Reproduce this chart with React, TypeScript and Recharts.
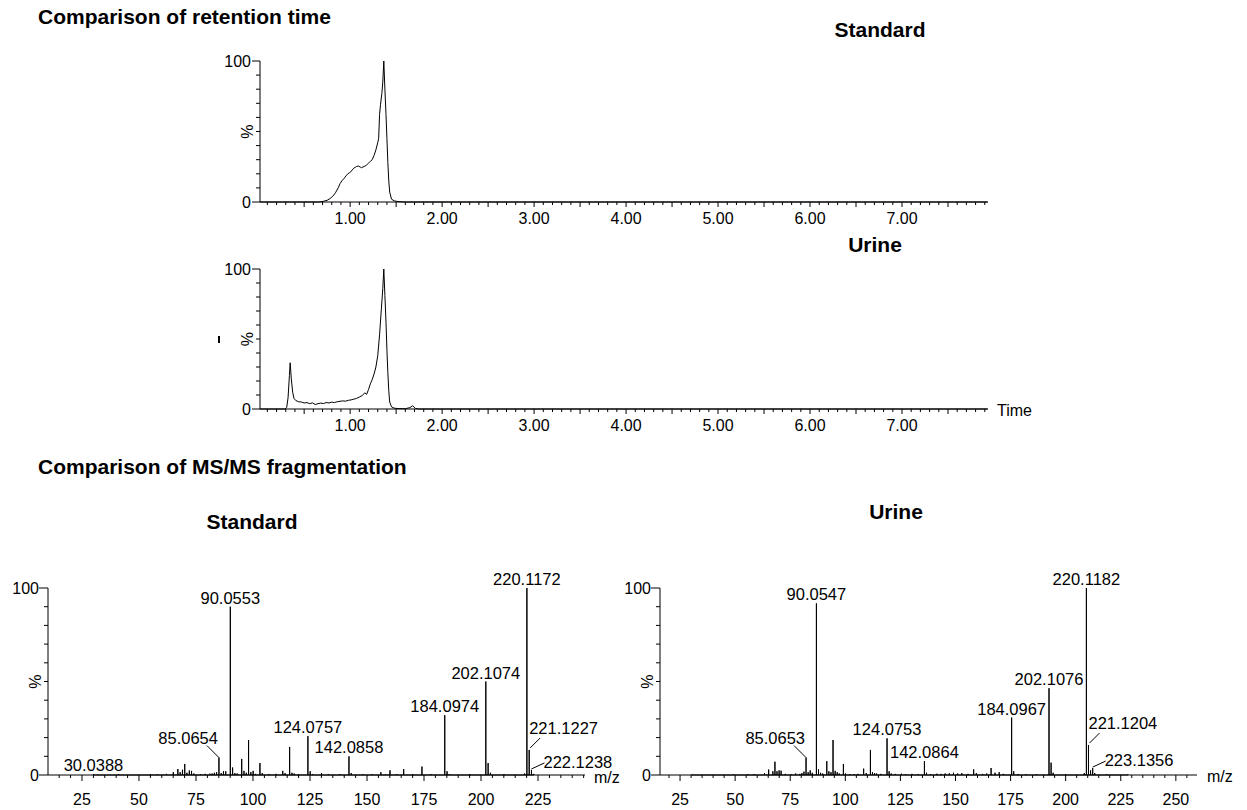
import React from "react";
import { LineChart, Line, XAxis, YAxis, ComposedChart, Scatter } from "recharts";

const FONT = "'Liberation Sans', Arial, sans-serif";

// retention time traces: [time (min), % intensity]
const standardTrace: [number, number][] = [
  [0.02, 0], [0.66, 0], [0.71, 0.5], [0.75, 1.2], [0.78, 2.4], [0.81, 4], [0.84, 6.5], [0.87, 10],
  [0.89, 13], [0.91, 15], [0.935, 16.8], [0.955, 18.5], [0.975, 20], [0.99, 20.6], [1.005, 21.3],
  [1.02, 22.5], [1.04, 24], [1.055, 24.6], [1.07, 25.2], [1.09, 25.5], [1.11, 24.8], [1.125, 24.3],
  [1.14, 24.9], [1.16, 25.4], [1.18, 26.3], [1.2, 27.6], [1.22, 28.8], [1.24, 30], [1.26, 33],
  [1.28, 37], [1.3, 42], [1.31, 45], [1.32, 62], [1.33, 69], [1.345, 77], [1.355, 85], [1.366, 100],
  [1.378, 80], [1.39, 62], [1.4, 45], [1.41, 28], [1.42, 15], [1.43, 7], [1.45, 2], [1.48, 0.8],
  [1.52, 0.3], [1.6, 0], [7.93, 0],
];

const urineTrace: [number, number][] = [
  [0.02, 0], [0.29, 0], [0.31, 1], [0.325, 8], [0.34, 24], [0.348, 33], [0.36, 22], [0.375, 12],
  [0.39, 7.5], [0.41, 6], [0.44, 5.2], [0.47, 5], [0.5, 4.3], [0.53, 4.6], [0.56, 3.8], [0.59, 4.4],
  [0.62, 3.2], [0.65, 3.8], [0.68, 4.2], [0.71, 3.9], [0.74, 4.6], [0.77, 4.3], [0.8, 4.9], [0.83, 4.6],
  [0.86, 5.2], [0.89, 5.5], [0.92, 5.8], [0.95, 5.6], [0.98, 6.2], [1.01, 6.5], [1.04, 7], [1.07, 7.6],
  [1.1, 8.5], [1.13, 9.6], [1.16, 11.5], [1.18, 10.5], [1.2, 14], [1.22, 18], [1.24, 21], [1.26, 25],
  [1.28, 30], [1.3, 38], [1.32, 53], [1.34, 72], [1.355, 86], [1.366, 100], [1.378, 81], [1.39, 62],
  [1.4, 42], [1.41, 26], [1.42, 13], [1.43, 5], [1.45, 1.5], [1.48, 0.6], [1.52, 0.3], [1.6, 0.2],
  [1.65, 1], [1.68, 2.3], [1.71, 0.4], [1.75, 0], [7.93, 0],
];

const timeLabels = ["1.00", "2.00", "3.00", "4.00", "5.00", "6.00", "7.00"];

// MS/MS spectra: [m/z, % intensity]
const standardPeaks: [number, number][] = [
  [30.0388, 0.5], [41.04, 0.4], [55.05, 0.4], [58.07, 0.4], [62.06, 0.6], [65.05, 1.5], [67.05, 3.2],
  [68.05, 1.5], [69.07, 2.8], [70.07, 5.9], [71.05, 1.2], [72.08, 2.4], [73.05, 2.2], [74.06, 0.8],
  [77.04, 0.5], [79.05, 0.6], [81.07, 0.7], [82.07, 0.8], [83.06, 1.2], [84.04, 1.5], [85.0654, 9.3],
  [86.06, 1], [87.05, 2], [88.04, 2], [90.0553, 90], [91.06, 4], [92.05, 1], [93.07, 0.8], [95.05, 8.6],
  [96.05, 2.2], [97.07, 1.2], [98.06, 18.7], [99.07, 1.5], [100.07, 2.2], [101.06, 0.6], [103.05, 6.4],
  [104.05, 1], [107.05, 0.5], [110.07, 0.6], [113.06, 2.2], [114.06, 1], [116.07, 15], [117.07, 1.2],
  [118.06, 0.8], [120.08, 0.4], [124.0757, 20.8], [125.08, 2], [126.09, 0.5], [130.06, 1], [133.08, 0.4],
  [138.07, 0.5], [142.0858, 10], [143.09, 1], [148.08, 0.5], [152.07, 0.5], [156.08, 1.5], [158.09, 0.5],
  [160.08, 2.5], [163.08, 0.5], [166.08, 3.2], [170.09, 0.5], [174.09, 4.5], [178.1, 0.5], [184.0974, 32],
  [185.1, 2], [186.1, 0.5], [195.1, 0.5], [202.1074, 50], [203.11, 6.4], [204.11, 1.2], [210.1, 0.4],
  [219.11, 0.8], [220.1172, 100], [221.1227, 13.4], [222.1238, 2.7], [223.12, 0.6],
];

const urinePeaks: [number, number][] = [
  [30.03, 0.3], [50.04, 0.3], [57.06, 0.4], [60.05, 0.5], [65.05, 1], [67.05, 2.9], [69.07, 2], [70.07, 7.1],
  [71.05, 2], [72.08, 2.5], [73.05, 2.3], [75.05, 0.6], [78.05, 0.5], [80.05, 0.8], [82.07, 0.6], [83.06, 1],
  [84.04, 1.8], [85.0653, 9.3], [86.06, 1.5], [87.05, 2.5], [88.04, 1.2], [90.0547, 91.8], [91.06, 3],
  [92.05, 1.2], [93.07, 0.8], [95.05, 7.4], [96.05, 2], [97.07, 1.5], [98.06, 18.7], [99.07, 2.2],
  [100.07, 1.5], [101.06, 0.8], [103.05, 5.9], [104.05, 0.8], [106.06, 0.5], [108.05, 0.5], [110.07, 0.6],
  [112.8, 3.4], [114.06, 1], [116.07, 13.4], [117.07, 1.5], [118.06, 1], [119.05, 0.8], [121.07, 0.6],
  [124.0753, 19.6], [125.08, 2], [126.09, 0.8], [128.07, 0.6], [131.06, 0.7], [133.08, 0.5], [136.07, 0.6],
  [139.06, 0.5], [142.0864, 7.4], [143.09, 1.2], [145.08, 0.5], [148.08, 0.7], [150.07, 0.6], [152.07, 0.8],
  [154.08, 0.9], [156.08, 1.2], [158.09, 0.8], [160.08, 1], [163.08, 0.6], [165.8, 3], [167.09, 1],
  [170.09, 0.6], [172.08, 0.8], [174.2, 3.7], [176.09, 1.2], [178.1, 1.5], [180.1, 0.6], [184.0967, 30.7],
  [185.1, 2], [187.1, 0.5], [191.1, 0.4], [196.1, 0.5], [202.1076, 46.4], [203.11, 6.6], [204.11, 1.2],
  [210.1, 0.4], [219.11, 1], [220.1182, 100], [221.1204, 16], [222.12, 2.5], [223.1356, 3.7], [224.13, 1],
  [230.1, 0.4], [240.1, 0.3],
];

const standardPeakLabels = ["30.0388", "85.0654", "90.0553", "124.0757", "142.0858", "184.0974", "202.1074", "220.1172", "221.1227", "222.1238"];
const urinePeakLabels = ["85.0653", "90.0547", "124.0753", "142.0864", "184.0967", "202.1076", "220.1182", "221.1204", "223.1356"];

const standardMzLabels = [25, 50, 75, 100, 125, 150, 175, 200, 225];
const urineMzLabels = [25, 50, 75, 100, 125, 150, 175, 200, 225, 250];

// where a peak label sits relative to its peak (default: centred above)
const labelPlacement: Record<string, "left" | "right" | "low"> = {
  "85.0654": "left",
  "85.0653": "left",
  "221.1227": "right",
  "221.1204": "right",
  "222.1238": "low",
  "223.1356": "low",
};

const timeTicks = Array.from({ length: 79 }, (_, k) => (k + 1) / 10);
const pctTicks = [0, 10, 20, 30, 40, 50, 60, 70, 80, 90, 100];
const mzTicks = Array.from({ length: 55 }, (_, k) => 5 * (k + 3));

const txt = { fontFamily: FONT, fill: "#000" };

const PctTick = (props: any) => {
  const { x, y, payload, major } = props;
  const v = payload.value;
  const long = v === 0 || v === 100;
  return (
    <g>
      <line x1={x} x2={x - (long ? major : 4)} y1={y} y2={y} stroke="#000" />
      {long && (
        <text {...txt} x={x - 9} y={y + 5.5} textAnchor="end" fontSize={16}>
          {v}
        </text>
      )}
      {v === 50 && (
        <text {...txt} x={x - 13} y={y} textAnchor="middle" dominantBaseline="central" fontSize={16} transform={`rotate(-90, ${x - 13}, ${y})`}>
          %
        </text>
      )}
    </g>
  );
};

const TimeTick = (props: any) => {
  const { x, y, payload } = props;
  const k = Math.round(payload.value * 10);
  const label = k % 10 === 0 ? timeLabels[k / 10 - 1] : null;
  return (
    <g>
      <line x1={x} x2={x} y1={y} y2={y + (k % 5 === 0 ? 5 : 3)} stroke="#000" />
      {label && (
        <text {...txt} x={x} y={y + 22} textAnchor="middle" fontSize={16}>
          {label}
        </text>
      )}
    </g>
  );
};

const makeMzTick = (labels: number[]) => (props: any) => {
  const { x, y, payload } = props;
  const v = Math.round(payload.value);
  const show = labels.includes(v);
  return (
    <g>
      <line x1={x} x2={x} y1={y} y2={y + (v % 25 === 0 ? 6 : 3)} stroke="#000" />
      {show && (
        <text {...txt} x={x} y={y + 30} textAnchor="middle" fontSize={16}>
          {v}
        </text>
      )}
    </g>
  );
};

const PeakLabel = (props: any) => {
  const { cx, cy, payload } = props;
  const label: string = payload.label;
  const place = labelPlacement[label];
  const fs = 16.5;
  if (place === "left") {
    return (
      <g>
        <line x1={cx} y1={cy} x2={cx - 12} y2={cy - 12} stroke="#000" />
        <text {...txt} x={cx - 1} y={cy - 14} textAnchor="end" fontSize={fs}>{label}</text>
      </g>
    );
  }
  if (place === "right") {
    return (
      <g>
        <line x1={cx + 1} y1={cy - 2} x2={cx + 11} y2={cy - 12} stroke="#000" />
        <text {...txt} x={cx} y={cy - 16} textAnchor="start" fontSize={fs}>{label}</text>
      </g>
    );
  }
  if (place === "low") {
    return (
      <g>
        <line x1={cx} y1={cy - 1} x2={cx + 13} y2={cy - 7} stroke="#000" />
        <text {...txt} x={cx + 12} y={cy - 2} textAnchor="start" fontSize={fs}>{label}</text>
      </g>
    );
  }
  return (
    <text {...txt} x={cx} y={cy - 3} textAnchor="middle" fontSize={fs}>{label}</text>
  );
};

function Chromatogram({ trace, left, top, plotHeight }: { trace: [number, number][]; left: number; top: number; plotHeight: number }) {
  const data = trace.map(([t, v]) => ({ t, v }));
  return (
    <div style={{ position: "absolute", left, top }}>
      <LineChart width={800} height={10 + plotHeight + 32} data={data} margin={{ top: 10, right: 12, bottom: 0, left: 0 }}>
        <XAxis
          type="number"
          dataKey="t"
          domain={[0.02, 7.935]}
          ticks={timeTicks}
          interval={0}
          tickSize={0}
          tickMargin={0}
          tickLine={false}
          axisLine={{ stroke: "#000" }}
          tick={<TimeTick />}
          height={32}
        />
        <YAxis
          type="number"
          domain={[0, 100]}
          ticks={pctTicks}
          interval={0}
          tickSize={0}
          tickMargin={0}
          tickLine={false}
          axisLine={{ stroke: "#000" }}
          tick={<PctTick major={8} />}
          width={60}
        />
        <Line dataKey="v" type="linear" stroke="#000" strokeWidth={1} dot={false} isAnimationActive={false} />
      </LineChart>
    </div>
  );
}

function Spectrum({
  peaks, labels, mzLabels, left, width, stickDomain, labelDomain,
}: {
  peaks: [number, number][]; labels: string[]; mzLabels: number[]; left: number; width: number;
  stickDomain: [number, number]; labelDomain: [number, number];
}) {
  const sticks = peaks.flatMap(([mz, i]) => [{ mz, i: 0 }, { mz, i }, { mz, i: 0 }]);
  const labelData = labels.map((label) => {
    const mz = parseFloat(label);
    const peak = peaks.find((p) => p[0] === mz);
    return { mz, i: peak ? peak[1] : 0, label };
  });
  const MzTick = makeMzTick(mzLabels);
  return (
    <div style={{ position: "absolute", left, top: 563 }}>
      <ComposedChart width={width} height={247} data={sticks} margin={{ top: 25, right: width - 582, bottom: 0, left: 0 }}>
        <XAxis xAxisId="mz" type="number" dataKey="mz" domain={stickDomain} hide height={0} />
        <XAxis
          xAxisId="scale"
          type="number"
          dataKey="mz"
          domain={labelDomain}
          allowDataOverflow
          ticks={mzTicks.filter((t) => t > labelDomain[0] && t < labelDomain[1])}
          interval={0}
          tickSize={0}
          tickMargin={0}
          tickLine={false}
          axisLine={{ stroke: "#000" }}
          tick={<MzTick />}
          height={35}
        />
        <YAxis
          type="number"
          domain={[0, 100]}
          ticks={pctTicks}
          interval={0}
          tickSize={0}
          tickMargin={0}
          tickLine={false}
          axisLine={{ stroke: "#000" }}
          tick={<PctTick major={9} />}
          width={45}
        />
        <Line xAxisId="mz" dataKey="i" type="linear" stroke="#000" strokeWidth={1} dot={false} isAnimationActive={false} />
        <Scatter xAxisId="mz" data={labelData} dataKey="i" shape={PeakLabel} isAnimationActive={false} />
      </ComposedChart>
    </div>
  );
}

function Text({ x, baseline, children, bold, size = 16, anchor = "start" }: any) {
  const lh = size;
  const top = baseline - (lh - 1.117 * size) / 2 - 0.905 * size;
  const tx = anchor === "middle" ? "translateX(-50%)" : anchor === "end" ? "translateX(-100%)" : "none";
  return (
    <div
      style={{
        position: "absolute", left: x, top, fontFamily: FONT, fontSize: size, lineHeight: `${lh}px`,
        fontWeight: bold ? "bold" : "normal", whiteSpace: "nowrap", transform: tx, color: "#000",
      }}
    >
      {children}
    </div>
  );
}

export default function App() {
  return (
    <div style={{ position: "absolute", left: 0, top: 0, width: 1247, height: 810, background: "#fff", overflow: "hidden" }}>
      <Text x={38} baseline={24} bold size={21}>Comparison of retention time</Text>
      <Text x={880} baseline={37} bold size={21} anchor="middle">Standard</Text>
      <Text x={875} baseline={252} bold size={21} anchor="middle">Urine</Text>
      <Text x={38} baseline={474} bold size={21}>Comparison of MS/MS fragmentation</Text>
      <Text x={252} baseline={529} bold size={21} anchor="middle">Standard</Text>
      <Text x={896} baseline={519} bold size={21} anchor="middle">Urine</Text>

      <Chromatogram trace={standardTrace} left={200} top={51} plotHeight={141} />
      <Chromatogram trace={urineTrace} left={200} top={259} plotHeight={140} />
      <Text x={997} baseline={416.5}>Time</Text>
      <div style={{ position: "absolute", left: 218, top: 336, width: 2, height: 7, background: "#000" }} />

      <Spectrum peaks={standardPeaks} labels={standardPeakLabels} mzLabels={standardMzLabels} left={3} width={640} stickDomain={[10.1, 245.6]} labelDomain={[10.1, 245.6]} />
      <Spectrum peaks={urinePeaks} labels={urinePeakLabels} mzLabels={urineMzLabels} left={615} width={600} stickDomain={[14.7, 273.4]} labelDomain={[15.9, 259.6]} />
      <Text x={594} baseline={784}>m/z</Text>
      <Text x={1207} baseline={783}>m/z</Text>
    </div>
  );
}
